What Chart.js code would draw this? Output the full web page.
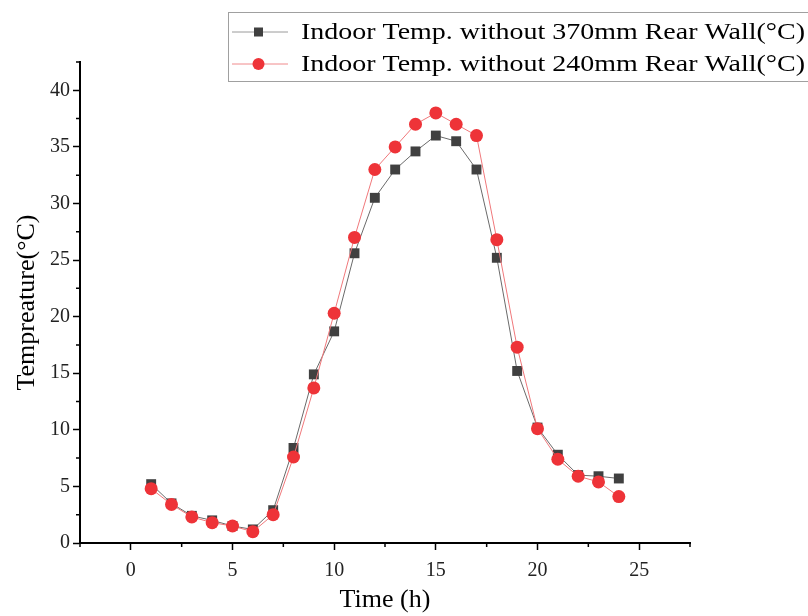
<!DOCTYPE html>
<html>
<head>
<meta charset="utf-8">
<script src="https://cdn.jsdelivr.net/npm/chart.js@4"></script>
<style>
  html, body { margin: 0; padding: 0; background: #fff; }
  #wrap { width: 808px; height: 616px; }
</style>
</head>
<body>
<div id="wrap"><canvas id="chart" width="808" height="616"></canvas></div>
<script>
// hours of the day
const hours = [1, 2, 3, 4, 5, 6, 7, 8, 9, 10, 11, 12, 13, 14, 15, 16, 17, 18, 19, 20, 21, 22, 23, 24];
// indoor temperature, 370mm rear wall case
const temp370 = [5.2, 3.5, 2.4, 2.0, 1.5, 1.2, 2.9, 8.4, 14.9, 18.7, 25.6, 30.5, 33.0, 34.6, 36.0, 35.5, 33.0, 25.2, 15.2, 10.2, 7.8, 6.0, 5.9, 5.7];
// indoor temperature, 240mm rear wall case
const temp240 = [4.8, 3.4, 2.3, 1.8, 1.5, 1.0, 2.5, 7.6, 13.7, 20.3, 27.0, 33.0, 35.0, 37.0, 38.0, 37.0, 36.0, 26.8, 17.3, 10.1, 7.4, 5.9, 5.4, 4.1];

const xTicks = [0, 5, 10, 15, 20, 25];
const xMinor = [-2.5, 2.5, 7.5, 12.5, 17.5, 22.5, 27.5];
const yTicks = [0, 5, 10, 15, 20, 25, 30, 35, 40];
const yMinor = [2.5, 7.5, 12.5, 17.5, 22.5, 27.5, 32.5, 37.5, 42.5];

const label370 = 'Indoor Temp. without 370mm Rear Wall(°C)';
const label240 = 'Indoor Temp. without 240mm Rear Wall(°C)';

const serif = '"Liberation Serif", "Times New Roman", serif';
const darkGray = '#404040';
const red = '#ee3338';

// short ticks between the labelled ones
const minorTicks = {
    id: 'minorTicks',
    afterDraw(chart) {
        const ctx = chart.ctx;
        const xs = chart.scales.x, ys = chart.scales.y;
        ctx.save();
        ctx.strokeStyle = '#000';
        ctx.lineWidth = 1.5;
        ctx.beginPath();
        xMinor.forEach(v => {
            const px = xs.getPixelForValue(v);
            ctx.moveTo(px, xs.top);
            ctx.lineTo(px, xs.top + 4);
        });
        yMinor.forEach(v => {
            const py = ys.getPixelForValue(v);
            ctx.moveTo(ys.right, py);
            ctx.lineTo(ys.right - 4, py);
        });
        ctx.stroke();
        ctx.restore();
    }
};

// boxed legend with line + marker samples (text stretched a little, like the original)
const boxLegend = {
    id: 'boxLegend',
    afterDraw(chart) {
        const ctx = chart.ctx;
        ctx.save();
        ctx.strokeStyle = '#a0a0a0';
        ctx.lineWidth = 1;
        ctx.strokeRect(228.5, 12.5, 600, 69);
        const rows = [
            { y: 32, text: label370, line: '#9a9a9a', fill: darkGray, shape: 'rect' },
            { y: 64, text: label240, line: '#f08a8c', fill: red, shape: 'circle' }
        ];
        rows.forEach(r => {
            ctx.strokeStyle = r.line;
            ctx.lineWidth = 1;
            ctx.beginPath();
            ctx.moveTo(232, r.y);
            ctx.lineTo(288, r.y);
            ctx.stroke();
            ctx.fillStyle = r.fill;
            if (r.shape === 'rect') {
                ctx.fillRect(254, r.y - 4.5, 9, 9);
            } else {
                ctx.beginPath();
                ctx.arc(258.5, r.y, 6, 0, Math.PI * 2);
                ctx.fill();
            }
            ctx.fillStyle = '#000';
            ctx.font = '23px ' + serif;
            ctx.textBaseline = 'middle';
            const w = ctx.measureText(r.text).width;
            ctx.save();
            ctx.translate(301, r.y + 1);
            ctx.scale(504 / w, 1);
            ctx.fillText(r.text, 0, 0);
            ctx.restore();
        });
        ctx.restore();
    }
};

new Chart(document.getElementById('chart'), {
    type: 'line',
    data: {
        labels: hours,
        datasets: [{
            label: label370,
            data: hours.map((h, i) => ({ x: h, y: temp370[i] })),
            borderColor: '#6a6a6a',
            borderWidth: 1,
            backgroundColor: darkGray,
            pointBackgroundColor: darkGray,
            pointBorderColor: darkGray,
            pointBorderWidth: 0,
            pointStyle: 'rect',
            pointRadius: 7,
            order: 2
        }, {
            label: label240,
            data: hours.map((h, i) => ({ x: h, y: temp240[i] })),
            borderColor: '#f0787b',
            borderWidth: 1,
            backgroundColor: red,
            pointBackgroundColor: red,
            pointBorderColor: red,
            pointBorderWidth: 0,
            pointStyle: 'circle',
            pointRadius: 6.5,
            order: 1
        }]
    },
    options: {
        responsive: false,
        animation: false,
        layout: { padding: { left: 0, right: 118, top: 62, bottom: 0 } },
        plugins: {
            legend: { display: false },
            tooltip: { enabled: false }
        },
        scales: {
            x: {
                type: 'linear',
                min: -2.5,
                max: 27.5,
                afterBuildTicks: scale => { scale.ticks = xTicks.map(v => ({ value: v })); },
                afterFit: scale => { scale.height = 73; },
                border: { display: true, color: '#000', width: 2 },
                grid: { drawOnChartArea: false, drawTicks: true, tickLength: 7, tickColor: '#000', tickWidth: 1.5 },
                ticks: { color: '#222', padding: 9, font: { family: serif, size: 20 } },
                title: {
                    display: true,
                    text: 'Time (h)',
                    color: '#000',
                    padding: { top: 0, bottom: 0 },
                    font: { family: serif, size: 26 }
                }
            },
            y: {
                min: 0,
                max: 42.5,
                afterBuildTicks: scale => { scale.ticks = yTicks.map(v => ({ value: v })); },
                afterFit: scale => { scale.width = 80; },
                border: { display: true, color: '#000', width: 2 },
                grid: { drawOnChartArea: false, drawTicks: true, tickLength: 7, tickColor: '#000', tickWidth: 1.5 },
                ticks: { color: '#222', padding: 3, font: { family: serif, size: 20 } },
                title: {
                    display: true,
                    text: 'Tempreature(°C)',
                    color: '#000',
                    padding: { top: 12, bottom: 0 },
                    font: { family: serif, size: 26 }
                }
            }
        }
    },
    plugins: [minorTicks, boxLegend]
});
</script>
</body>
</html>
